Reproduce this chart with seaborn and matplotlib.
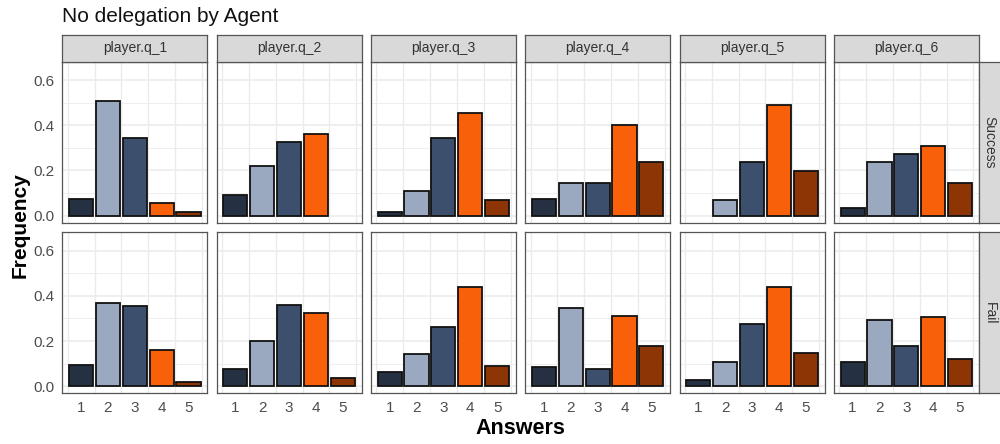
import numpy as np
import pandas as pd
import matplotlib
matplotlib.use("Agg")
import matplotlib.pyplot as plt
import seaborn as sns

sns.set_style("white")
plt.rcParams['font.family'] = ['Liberation Sans', 'DejaVu Sans']

questions = ["player.q_1", "player.q_2", "player.q_3", "player.q_4", "player.q_5", "player.q_6"]
outcomes = ["Success", "Fail"]
answers = [1, 2, 3, 4, 5]

# frequencies per question, answers 1..5 (None = no bar)
success = [
    [0.072, 0.509, 0.345, 0.055, 0.018],
    [0.091, 0.218, 0.327, 0.363, None],
    [0.018, 0.108, 0.345, 0.453, 0.071],
    [0.072, 0.145, 0.145, 0.400, 0.236],
    [None, 0.071, 0.236, 0.491, 0.199],
    [0.035, 0.236, 0.273, 0.308, 0.145],
]
fail = [
    [0.093, 0.369, 0.354, 0.162, 0.021],
    [0.078, 0.199, 0.361, 0.326, 0.035],
    [0.063, 0.142, 0.263, 0.440, 0.091],
    [0.086, 0.348, 0.078, 0.311, 0.177],
    [0.028, 0.106, 0.276, 0.440, 0.149],
    [0.106, 0.291, 0.177, 0.305, 0.121],
]
palette = {1: "#253142", 2: "#9BA9C0", 3: "#3C4F6D", 4: "#F8610A", 5: "#8E3506"}

rows = []
for oc, table in zip(outcomes, [success, fail]):
    for q, vals in zip(questions, table):
        for a, v in zip(answers, vals):
            if v is not None:
                rows.append({"question": q, "outcome": oc, "answer": a, "freq": v})
df = pd.DataFrame(rows)

W, H = 1000, 444
fig = plt.figure(figsize=(W / 100, H / 100), dpi=100)

def fa(x0, y0, x1, y1):
    return fig.add_axes([x0 / W, 1 - y1 / H, (x1 - x0) / W, (y1 - y0) / H])

border = "#555555"
grid_c = "#EBEBEB"
text_c = "#4D4D4D"

panel_w = 145.0
step = 154.3
row_y = [(61.7, 222.7), (232.3, 393.3)]

for r, oc in enumerate(outcomes):
    for c, q in enumerate(questions):
        x0 = 62.3 + c * step
        y0, y1 = row_y[r]
        ax = fa(x0, y0, x0 + panel_w, y1)
        sub = df[(df.question == q) & (df.outcome == oc)]
        sns.barplot(data=sub, x="answer", y="freq", hue="answer", palette=palette,
                    native_scale=True, width=0.9, errorbar=None, legend=False,
                    saturation=1, edgecolor="#111111", linewidth=1.3, ax=ax, zorder=3)
        ax.set_xlim(0.3, 5.7)
        ax.set_ylim(-0.031, 0.681)
        ax.set_xticks(answers)
        ax.set_xticks(np.arange(0.5, 6.0, 1.0), minor=True)
        ax.set_yticks([0.0, 0.2, 0.4, 0.6])
        ax.set_yticks([0.1, 0.3, 0.5], minor=True)
        ax.set_axisbelow(True)
        ax.grid(False)
        for xv in np.arange(0.5, 6.0, 1.0):
            ax.axvline(xv, color=grid_c, lw=1.0, zorder=0)
        for yv in [0.0, 0.2, 0.4, 0.6]:
            ax.axhline(yv, color=grid_c, lw=1.1, zorder=0)
        for yv in [0.1, 0.3, 0.5]:
            ax.axhline(yv, color=grid_c, lw=0.6, zorder=0)
        for s in ax.spines.values():
            s.set_color(border)
            s.set_linewidth(0.9)
        ax.set_xlabel("")
        ax.set_ylabel("")
        ax.tick_params(which="minor", length=0)
        ax.tick_params(which="major", color=border, width=0.8, length=3.5,
                       labelcolor=text_c, labelsize=11, pad=2)
        ax.set_yticklabels(["0.0", "0.2", "0.4", "0.6"])
        if c != 0:
            ax.tick_params(axis="y", which="major", length=0, labelleft=False)
        if r != 1:
            ax.tick_params(axis="x", which="major", length=0, labelbottom=False)
        # top strips
        if r == 0:
            sa = fa(x0, 35.0, x0 + panel_w, 61.7)
            sa.set_facecolor("#D9D9D9")
            sa.set_xticks([]); sa.set_yticks([])
            for s in sa.spines.values():
                s.set_color(border); s.set_linewidth(0.9)
            sa.text(0.5, 0.5, q, ha="center", va="center", fontsize=10,
                    color="#333333", transform=sa.transAxes)
    # right strip
    y0, y1 = row_y[r]
    ra = fa(979.0, y0, 1003.0, y1)
    ra.set_facecolor("#D9D9D9")
    ra.set_xticks([]); ra.set_yticks([])
    for s in ra.spines.values():
        s.set_color(border); s.set_linewidth(0.9)
    ra.text(0.45, 0.5, oc, ha="center", va="center", rotation=-90, fontsize=10,
            color="#333333", transform=ra.transAxes)

fig.text(62 / W, 1 - 16.5 / H, "No delegation by Agent", ha="left", va="center",
         fontsize=15, color="#111111")
fig.text(20 / W, 1 - 225 / H, "Frequency", rotation=90, ha="center", va="center",
         fontsize=15, fontweight="bold", color="#000000")
fig.text(520 / W, 1 - 428 / H, "Answers", ha="center", va="center",
         fontsize=15.5, fontweight="bold", color="#000000")

fig.savefig("out.png", dpi=100, facecolor="white")
